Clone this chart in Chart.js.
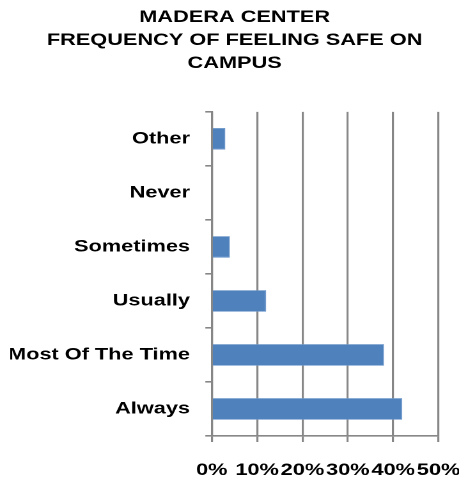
<!DOCTYPE html>
<html>
<head>
<meta charset="utf-8">
<script src="https://cdn.jsdelivr.net/npm/chart.js@4"></script>
<style>
  html, body { margin: 0; padding: 0; background: #fff; overflow: hidden; }
  /* the reference text is stretched sideways, so draw narrow and widen */
  #wrap { width: 359px; height: 485px; transform: scaleX(1.2786); transform-origin: 0 0; }
</style>
</head>
<body>
<div id="wrap"><canvas id="chart" width="359" height="485"></canvas></div>
<script>
// 응답 범주 (위에서 아래 순서)
const categories = ['Other', 'Never', 'Sometimes', 'Usually', 'Most Of The Time', 'Always'];
// 비율 (%)
const percents = [3, 0, 4, 12, 38, 42];
const titleLines = ['MADERA CENTER', 'FREQUENCY OF FEELING SAFE ON', 'CAMPUS'];

const FONT = "'Liberation Sans', Arial, sans-serif";
const GRID = '#878787';

new Chart(document.getElementById('chart'), {
  type: 'bar',
  data: {
    labels: categories,
    datasets: [{
      data: percents,
      backgroundColor: '#4F81BD',
      borderColor: '#6b96c9',
      borderWidth: 0.8,
      barPercentage: 0.4,
      categoryPercentage: 1
    }]
  },
  options: {
    indexAxis: 'y',
    responsive: false,
    devicePixelRatio: 2,
    animation: false,
    layout: { padding: { left: 8, right: 0, top: 0, bottom: 0 } },
    plugins: {
      legend: { display: false },
      tooltip: { enabled: false },
      title: {
        display: true,
        text: titleLines,
        color: '#000',
        font: { family: FONT, size: 17, weight: 'bold', lineHeight: 1.35 },
        padding: { top: 6, bottom: 37 }
      }
    },
    scales: {
      x: {
        min: 0,
        max: 50,
        ticks: {
          stepSize: 10,
          color: '#000',
          padding: 18,
          maxRotation: 0,
          font: { family: FONT, size: 17, weight: 'bold' },
          callback: v => v + '%'
        },
        grid: { color: GRID, lineWidth: 1.6, tickLength: 6 },
        border: { display: true, color: GRID, width: 1.6 },
        // 고정 높이 + 오른쪽 여백 (라벨 '50%'가 캔버스 끝에 닿도록)
        afterFit: s => { s.height = 49; s.paddingRight = 16; }
      },
      y: {
        ticks: {
          color: '#000',
          padding: 12,
          font: { family: FONT, size: 17, weight: 'bold' }
        },
        grid: { drawOnChartArea: false, color: GRID, lineWidth: 1.6, tickLength: 5 },
        border: { display: true, color: GRID, width: 1.6 },
        afterFit: s => { s.width = 157.6; }
      }
    }
  }
});
</script>
</body>
</html>
